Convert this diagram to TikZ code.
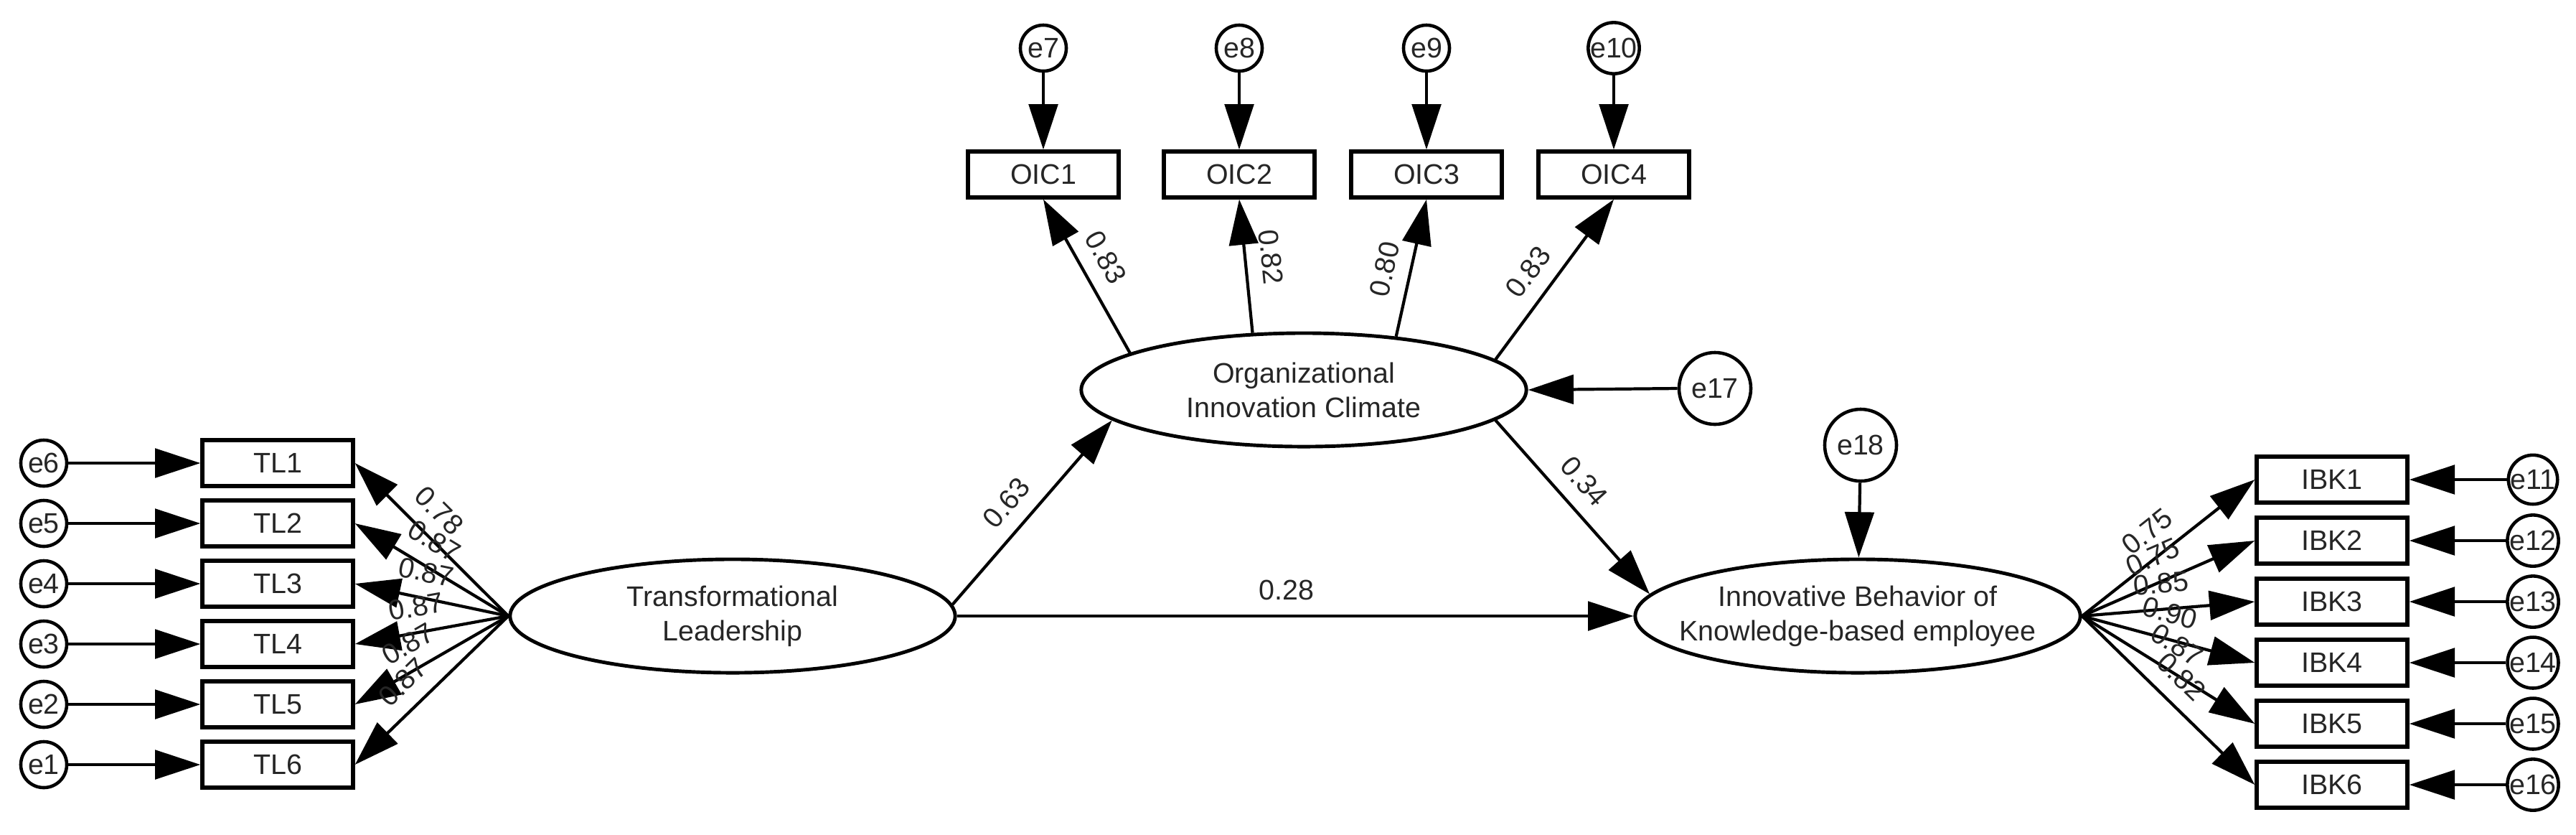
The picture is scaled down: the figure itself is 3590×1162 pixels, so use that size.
\documentclass[tikz,border=0pt]{standalone}
\usepackage{fontspec}
\setmainfont{Liberation Sans}
\usetikzlibrary{arrows.meta,shapes.geometric}
\begin{document}
\begin{tikzpicture}[x=0.01cm,y=-0.01cm,
  lbl/.style={font=\fontsize{11.2}{13.6}\selectfont, text=black!85},
  obs/.style={draw, line width=1.5pt, minimum width=2.1cm, minimum height=0.64cm, inner sep=0pt, lbl},
  err/.style={draw, circle, line width=1.3pt, minimum size=0.64cm, inner sep=0pt, lbl},
  errbig/.style={err, minimum size=1cm},
  lat/.style={draw, ellipse, line width=1.4pt, minimum width=6.2cm, minimum height=1.58cm, inner ysep=0pt, inner xsep=-1cm, align=center, lbl},
  arr/.style={line width=1.2pt, -{Triangle[length=18pt,width=11.5pt]}},
  coef/.style={lbl, sloped, inner sep=0pt, above=0.2cm},
]
\fill[white] (0,0) rectangle (3590,1162);
\useasboundingbox (0,0) rectangle (3590,1162);

% latent variables
\node[lat] (TL)  at (1021,858) {Transformational\\Leadership};
\node[lat] (OIC) at (1817,543) {Organizational\\Innovation Climate};
\node[lat] (IBK) at (2589,858) {Innovative Behavior of\\Knowledge-based employee};

% TL indicators
\node[obs] (tl1) at (387,645) {TL1};
\node[obs] (tl2) at (387,729) {TL2};
\node[obs] (tl3) at (387,813) {TL3};
\node[obs] (tl4) at (387,897) {TL4};
\node[obs] (tl5) at (387,981) {TL5};
\node[obs] (tl6) at (387,1065) {TL6};
\node[err] (e6) at (61,645) {e6};
\node[err] (e5) at (61,729) {e5};
\node[err] (e4) at (61,813) {e4};
\node[err] (e3) at (61,897) {e3};
\node[err] (e2) at (61,981) {e2};
\node[err] (e1) at (61,1065) {e1};

% OIC indicators
\node[obs] (oic1) at (1454,243) {OIC1};
\node[obs] (oic2) at (1727,243) {OIC2};
\node[obs] (oic3) at (1988,243) {OIC3};
\node[obs] (oic4) at (2249,243) {OIC4};
\node[err] (e7)  at (1454,67) {e7};
\node[err] (e8)  at (1727,67) {e8};
\node[err] (e9)  at (1988,67) {e9};
\node[err] (e10) at (2249,67) {e10};

% IBK indicators
\node[obs] (ibk1) at (3250,668) {IBK1};
\node[obs] (ibk2) at (3250,753) {IBK2};
\node[obs] (ibk3) at (3250,838) {IBK3};
\node[obs] (ibk4) at (3250,923) {IBK4};
\node[obs] (ibk5) at (3250,1008) {IBK5};
\node[obs] (ibk6) at (3250,1093) {IBK6};
\node[err] (e11) at (3530,668) {e11};
\node[err] (e12) at (3530,753) {e12};
\node[err] (e13) at (3530,838) {e13};
\node[err] (e14) at (3530,923) {e14};
\node[err] (e15) at (3530,1008) {e15};
\node[err] (e16) at (3530,1093) {e16};

% disturbances
\node[errbig] (e17) at (2390,541) {e17};
\node[errbig] (e18) at (2593,620) {e18};

% error arrows
\foreach \e/\b in {e6/tl1,e5/tl2,e4/tl3,e3/tl4,e2/tl5,e1/tl6,
                   e7/oic1,e8/oic2,e9/oic3,e10/oic4,
                   e11/ibk1,e12/ibk2,e13/ibk3,e14/ibk4,e15/ibk5,e16/ibk6}
  \draw[arr] (\e) -- (\b);
\draw[arr] (e17.west) -- (OIC.east);
\draw[arr] (e18) -- (IBK);

% TL loadings
\draw[arr] (TL.west) -- node[coef,pos=0.57] {0.78} (tl1.east);
\draw[arr] (TL.west) -- node[coef,pos=0.57] {0.87} (tl2.east);
\draw[arr] (TL.west) -- node[coef,pos=0.57] {0.87} (tl3.east);
\draw[arr] (TL.west) -- node[coef,pos=0.57] {0.87} (tl4.east);
\draw[arr] (TL.west) -- node[coef,pos=0.57] {0.87} (tl5.east);
\draw[arr] (TL.west) -- node[coef,pos=0.57] {0.87} (tl6.east);

% OIC loadings
\draw[arr] (OIC.168) -- node[coef,pos=0.54] {0.83} (oic1.south);
\draw[arr] (OIC.132) -- node[coef,pos=0.55] {0.82} (oic2.south);
\draw[arr] (OIC.30)  -- node[coef,pos=0.45] {0.80} (oic3.south);
\draw[arr] (OIC.9)   -- node[coef,pos=0.45] {0.83} (oic4.south);

% IBK loadings
\draw[arr] (IBK.east) -- node[coef,pos=0.47] {0.75} (ibk1.west);
\draw[arr] (IBK.east) -- node[coef,pos=0.47] {0.75} (ibk2.west);
\draw[arr] (IBK.east) -- node[coef,pos=0.47] {0.85} (ibk3.west);
\draw[arr] (IBK.east) -- node[coef,pos=0.47] {0.90} (ibk4.west);
\draw[arr] (IBK.east) -- node[coef,pos=0.47] {0.87} (ibk5.west);
\draw[arr] (IBK.east) -- node[coef,pos=0.47] {0.82} (ibk6.west);

% structural paths
\draw[arr] (TL.3)   -- node[coef,pos=0.46] {0.63} (OIC.189);
\draw[arr] (OIC.351) -- node[coef,pos=0.45] {0.34} (IBK.174);
\draw[arr] (TL.east) -- node[coef,pos=0.487] {0.28} (IBK.west);
\end{tikzpicture}
\end{document}
